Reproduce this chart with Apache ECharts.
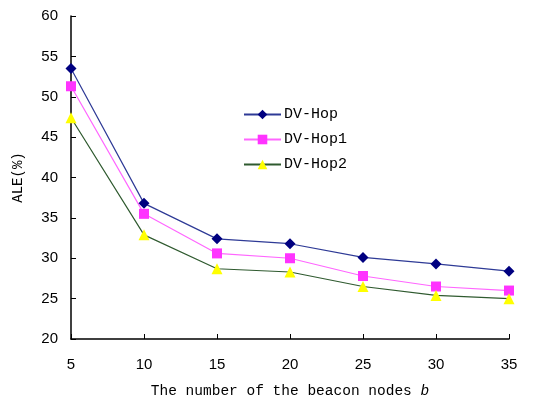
<!DOCTYPE html>
<html><head><meta charset="utf-8">
<script src="https://cdn.jsdelivr.net/npm/echarts@6/dist/echarts.min.js"></script>
<style>html,body{margin:0;padding:0;background:#fff}#c{width:533px;height:400px}</style>
</head><body><div id="c"></div>
<script>
const xValues = [5, 10, 15, 20, 25, 30, 35];
const dvHop  = [53.5, 36.8, 32.4, 31.8, 30.1, 29.3, 28.4];
const dvHop1 = [51.3, 35.5, 30.6, 30.0, 27.8, 26.5, 26.0];
const dvHop2 = [47.4, 32.9, 28.7, 28.3, 26.5, 25.4, 25.0];
const seriesNames = ['DV-Hop', 'DV-Hop1', 'DV-Hop2'];
const xTitle = 'The number of the beacon nodes {i|b}';
const yTitle = 'ALE(%)';

const mono = 'Liberation Mono';
const sans = 'Liberation Sans';
const pair = arr => xValues.map((x, i) => [x, arr[i]]);

const chart = echarts.init(document.getElementById('c'));
chart.setOption({
  animation: false,
  backgroundColor: '#fff',
  grid: { left: 71, right: 24, top: 16, bottom: 61, outerBoundsMode: 'none', containLabel: false },
  legend: {
    orient: 'vertical', left: 238, top: 102, itemGap: 10,
    itemWidth: 37, itemHeight: 12,
    textStyle: { fontFamily: mono, fontSize: 15, color: '#000', padding: [0, 0, 0, -2] },
    data: seriesNames
  },
  xAxis: {
    type: 'value', min: 5, max: 35, interval: 5,
    axisLine: { lineStyle: { color: '#000', width: 1.5 } },
    axisTick: { inside: true, length: 5, lineStyle: { color: '#000' } },
    splitLine: { show: false },
    axisLabel: { color: '#000', fontFamily: sans, fontSize: 15, margin: 18 },
    name: xTitle, nameLocation: 'middle', nameGap: 45,
    nameTextStyle: { color: '#000', fontFamily: mono, fontSize: 14.5,
      rich: { i: { fontStyle: 'italic', fontFamily: mono, fontSize: 14.5, color: '#000' } } }
  },
  yAxis: {
    type: 'value', min: 20, max: 60, interval: 5,
    axisLine: { show: true, lineStyle: { color: '#000', width: 1.5 } },
    axisTick: { show: true, inside: true, length: 5, lineStyle: { color: '#000' } },
    splitLine: { show: false },
    axisLabel: { color: '#000', fontFamily: sans, fontSize: 15, margin: 13 },
    name: yTitle, nameLocation: 'middle', nameGap: 46,
    nameTextStyle: { color: '#000', fontFamily: mono, fontSize: 14 }
  },
  series: [
    { name: seriesNames[0], type: 'line', data: pair(dvHop), symbol: 'diamond', symbolSize: 11,
      itemStyle: { color: '#000080' }, lineStyle: { color: '#2e3a96', width: 1.2 } },
    { name: seriesNames[1], type: 'line', data: pair(dvHop1), symbol: 'rect', symbolSize: 10,
      itemStyle: { color: '#ff33ff' }, lineStyle: { color: '#ff66ff', width: 1.2 } },
    { name: seriesNames[2], type: 'line', data: pair(dvHop2), symbol: 'triangle', symbolSize: 11,
      itemStyle: { color: '#ffff00' }, lineStyle: { color: '#2f5a2f', width: 1.2 } }
  ]
});
</script></body></html>
